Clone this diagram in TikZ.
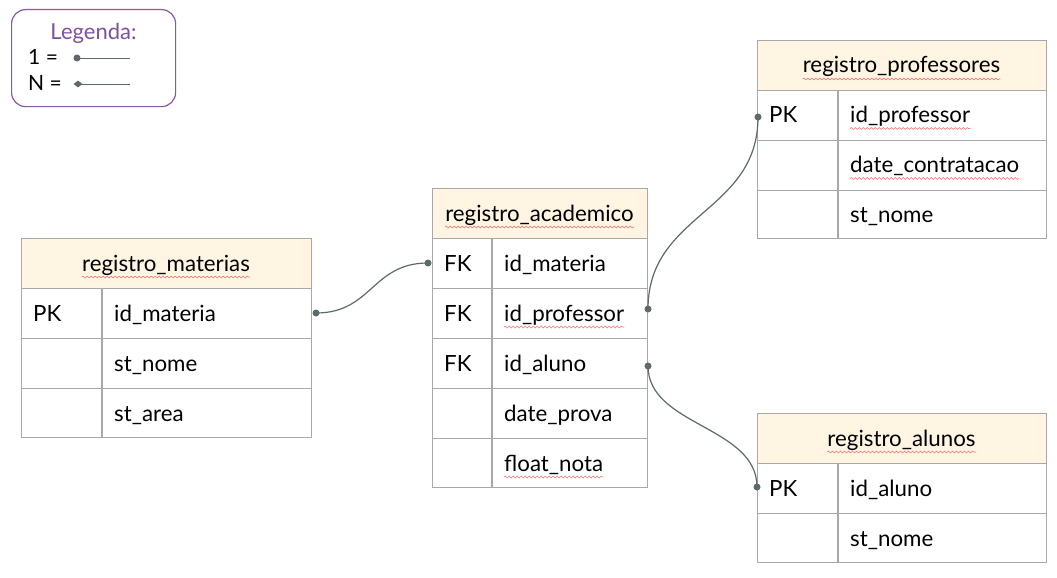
\documentclass[tikz,border=0pt]{standalone}
\usepackage{fontspec}
\setmainfont{Lato}
\usetikzlibrary{decorations.pathmorphing,shapes.geometric}
\definecolor{bordc}{HTML}{A8A8A8}
\definecolor{hdrc}{HTML}{FFF5E2}
\definecolor{connc}{HTML}{5E696C}
\definecolor{purp}{HTML}{8A58A8}
\definecolor{purpt}{HTML}{7D519E}
\definecolor{squig}{HTML}{F07878}
\tikzset{
  hdr/.style={draw=bordc, fill=hdrc, line width=1.2pt, anchor=north west, inner sep=0, minimum height=50pt},
  rowbox/.style={draw=bordc, line width=1.2pt, anchor=north west, inner sep=0},
  divl/.style={draw=bordc, line width=1.2pt},
  txt/.style={anchor=base west, inner sep=0, font=\fontsize{22.3}{26}\selectfont, text=black},
  htxt/.style={anchor=base, inner sep=0, font=\fontsize{22.3}{26}\selectfont, text=black},
  wavy/.style={draw=squig, line width=0.6pt, decorate, decoration={snake, segment length=4pt, amplitude=0.9pt}},
  conn/.style={draw=connc, line width=1.2pt},
  dotc/.style={circle, fill=connc, inner sep=0, minimum size=7pt},
  legtxt/.style={anchor=base west, inner sep=0, font=\fontsize{21}{24}\selectfont, text=black},
}
\newcommand{\squiggle}[1]{\draw[wavy] ([yshift=-6pt]#1.base west) -- ([yshift=-6pt]#1.base east);}
\begin{document}
\begin{tikzpicture}[x=1pt,y=-1pt]
\useasboundingbox (0,0) rectangle (1057,578);
\fill[white] (0,0) rectangle (1057,578);

% Legend
\node[draw=purp, line width=1.2pt, rounded corners=14pt, minimum width=164pt, minimum height=97pt, anchor=north west, inner sep=0] (legend) at (11,9) {};
\node[anchor=base, inner sep=0, font=\fontsize{22}{26}\selectfont, text=purpt] (legt) at (93.5,39.5) {Legenda:};
\node[legtxt] (leg1) at (28,65) {1 =};
\node[legtxt] (legN) at (28,90.5) {N =};
\node[dotc] (l1d) at (77,58) {};
\coordinate (l1e) at (130,58);
\draw[conn, line width=0.9pt] (l1d.center) -- (l1e);
\node[diamond, fill=connc, inner sep=0, minimum width=9pt, minimum height=7pt] (lNd) at (78,84) {};
\coordinate (lNe) at (130,84);
\draw[conn, line width=0.9pt] (lNd.center) -- (lNe);

% registro_materias
\foreach \i/\y/\h in {1/288/50,2/338/50,3/388/49} \node[rowbox, minimum width=290pt, minimum height=\h pt] (m\i) at (21,\y) {};
\node[hdr, minimum width=290pt] (mh) at (21,238) {};
\draw[divl] ([xshift=81pt]m1.north west) -- ([xshift=81pt]m3.south west);
\node[htxt] (mht) at (166,271) {registro\_materias};
\node[txt] (m1k) at (33,321) {PK};
\node[txt] (m1f) at (114,321) {id\_materia};
\node[txt] (m2f) at (114,371) {st\_nome};
\node[txt] (m3f) at (114,421) {st\_area};
\squiggle{mht}

% registro_academico
\foreach \i/\y/\h in {1/238/50,2/288/50,3/338/50,4/388/50,5/438/49} \node[rowbox, minimum width=215pt, minimum height=\h pt] (a\i) at (432,\y) {};
\node[hdr, minimum width=215pt] (ah) at (432,188) {};
\draw[divl] ([xshift=60pt]a1.north west) -- ([xshift=60pt]a5.south west);
\node[htxt] (aht) at (539.5,221) {registro\_academico};
\node[txt] (a1k) at (444,271) {FK};
\node[txt] (a1f) at (504,271) {id\_materia};
\node[txt] (a2k) at (444,321) {FK};
\node[txt] (a2f) at (504,321) {id\_professor};
\node[txt] (a3k) at (444,371) {FK};
\node[txt] (a3f) at (504,371) {id\_aluno};
\node[txt] (a4f) at (504,421) {date\_prova};
\node[txt] (a5f) at (504,471) {float\_nota};
\squiggle{aht}
\squiggle{a2f}
\squiggle{a5f}

% registro_professores
\foreach \i/\y/\h in {1/90/50,2/140/50,3/190/48} \node[rowbox, minimum width=289pt, minimum height=\h pt] (p\i) at (757,\y) {};
\node[hdr, minimum width=289pt] (ph) at (757,40) {};
\draw[divl] ([xshift=81pt]p1.north west) -- ([xshift=81pt]p3.south west);
\node[htxt] (pht) at (901.5,73) {registro\_professores};
\node[txt] (p1k) at (769,122.5) {PK};
\node[txt] (p1f) at (850,122.5) {id\_professor};
\node[txt] (p2f) at (850,172.5) {date\_contratacao};
\node[txt] (p3f) at (850,222.5) {st\_nome};
\squiggle{pht}
\squiggle{p1f}
\squiggle{p2f}

% registro_alunos
\foreach \i/\y/\h in {1/463/50,2/513/49} \node[rowbox, minimum width=289pt, minimum height=\h pt] (s\i) at (757,\y) {};
\node[hdr, minimum width=289pt] (sh) at (757,413) {};
\draw[divl] ([xshift=81pt]s1.north west) -- ([xshift=81pt]s2.south west);
\node[htxt] (sht) at (901.5,446) {registro\_alunos};
\node[txt] (s1k) at (769,496) {PK};
\node[txt] (s1f) at (850,496) {id\_aluno};
\node[txt] (s2f) at (850,546) {st\_nome};
\squiggle{sht}

% connectors
\node[dotc] (d1a) at (316,313) {};
\node[dotc] (d1b) at (428,263) {};
\draw[conn] (d1a.center) .. controls (372,313) and (372,263) .. (d1b.center);
\node[dotc] (d2a) at (648,309) {};
\node[dotc] (d2b) at (758,117) {};
\draw[conn] (d2a.center) .. controls (648,213) and (758,213) .. (d2b.center);
\node[dotc] (d3a) at (648,366) {};
\node[dotc] (d3b) at (757,487) {};
\draw[conn] (d3a.center) .. controls (648,426) and (757,426) .. (d3b.center);
\end{tikzpicture}
\end{document}
